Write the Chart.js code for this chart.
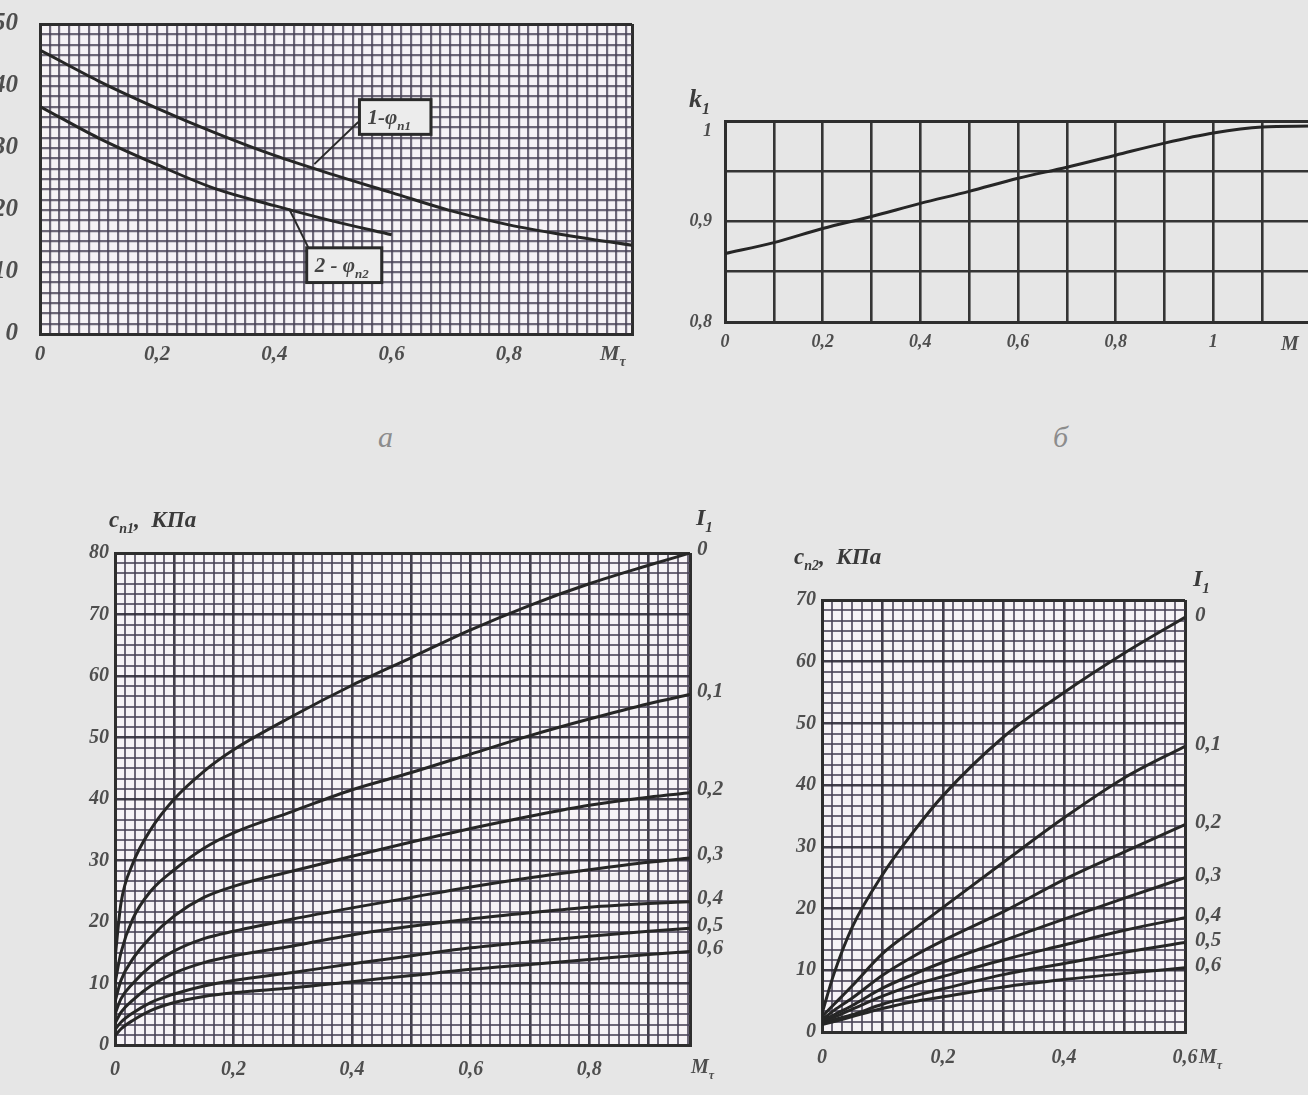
<!DOCTYPE html>
<html>
<head>
<meta charset="utf-8">
<script src="https://cdn.jsdelivr.net/npm/chart.js@4.4.1/dist/chart.umd.min.js"></script>
<style>
  html, body { margin: 0; padding: 0; background: #e6e6e6; width: 1308px; height: 1095px; overflow: hidden; position: relative; }
  canvas { position: absolute; }
  .cap { position: absolute; font: italic 30px "Liberation Serif", serif; color: #8c8c8c; }
</style>
</head>
<body>
<canvas id="chA" width="680" height="393" style="left:-20px;top:-13px"></canvas>
<canvas id="chB" width="650" height="290" style="left:680px;top:80px"></canvas>
<canvas id="chC" width="720" height="600" style="left:40px;top:490px"></canvas>
<canvas id="chD" width="548" height="540" style="left:760px;top:540px"></canvas>
<div class="cap" style="left:378px;top:420px">а</div>
<div class="cap" style="left:1053px;top:420px">б</div>
<script>
// ---- а: phi curves ----
const mA = [0, 0.1, 0.2, 0.3, 0.4, 0.5, 0.6, 0.7, 0.8, 0.9, 1.01];
const phi1 = [45.8, 40.8, 36.4, 32.4, 28.8, 25.7, 22.8, 19.9, 17.6, 15.9, 14.3];
const mA2 = [0, 0.1, 0.2, 0.3, 0.4, 0.5, 0.6];
const phi2 = [36.7, 31.6, 27.3, 23.4, 20.7, 18.2, 16.0];

// ---- б: k1 ----
const mB = [0, 0.1, 0.2, 0.3, 0.4, 0.5, 0.6, 0.7, 0.8, 0.9, 1.0, 1.1, 1.2];
const k1 = [0.868, 0.879, 0.893, 0.905, 0.918, 0.930, 0.943, 0.954, 0.966, 0.978, 0.988, 0.994, 0.995];

// ---- c_n1 (I1 = 0 ... 0,6) ----
const iLabels = ['0', '0,1', '0,2', '0,3', '0,4', '0,5', '0,6'];
const mC = [0, 0.01, 0.03, 0.06, 0.1, 0.15, 0.2, 0.3, 0.4, 0.5, 0.6, 0.7, 0.8, 0.9, 0.97];
const cI0 = [14, 23, 29.5, 35, 40, 44.5, 48, 53.5, 58.5, 63, 67.5, 71.5, 75, 78, 80];
const cI1 = [10, 15, 20.5, 25, 28.5, 32, 34.5, 38, 41.5, 44.3, 47.3, 50.3, 53, 55.5, 57];
const cI2 = [7, 10.5, 14, 17.5, 21, 24, 25.8, 28.3, 30.7, 33, 35.2, 37.2, 39, 40.3, 41];
const cI3 = [5, 7.5, 10, 12.8, 15.3, 17.3, 18.5, 20.5, 22.3, 24, 25.7, 27.2, 28.5, 29.7, 30.4];
const cI4 = [3.5, 5.3, 7.3, 9.6, 11.7, 13.4, 14.5, 16.1, 17.9, 19.3, 20.5, 21.5, 22.4, 23, 23.3];
const cI5 = [2.5, 3.7, 5.2, 6.9, 8.3, 9.6, 10.5, 11.8, 13.2, 14.5, 15.8, 16.8, 17.7, 18.5, 19];
const cI6 = [1.5, 2.6, 4, 5.6, 6.9, 7.9, 8.5, 9.3, 10.3, 11.3, 12.3, 13.1, 13.9, 14.7, 15.2];

// ---- c_n2 ----
const mD = [0, 0.02, 0.05, 0.1, 0.15, 0.2, 0.3, 0.4, 0.5, 0.6];
const dI0 = [3, 9.5, 17, 25.5, 32.3, 38.3, 47.8, 55, 61.4, 67.2];
const dI1 = [2.5, 4.5, 7.5, 12.7, 16.5, 20.2, 27.5, 34.7, 41.2, 46.3];
const dI2 = [2, 3.5, 5.5, 9.2, 12.2, 14.8, 19.5, 24.7, 29.2, 33.6];
const dI3 = [1.8, 2.8, 4.3, 7.1, 9.3, 11.3, 14.8, 18.3, 21.7, 25];
const dI4 = [1.6, 2.4, 3.7, 5.8, 7.6, 9.0, 11.7, 14.1, 16.5, 18.5];
const dI5 = [1.4, 2, 2.8, 4.5, 5.8, 7.0, 9.3, 11.1, 12.9, 14.5];
const dI6 = [1.2, 1.7, 2.5, 3.8, 4.9, 5.7, 7.3, 8.5, 9.5, 10.4];

const FONT = '"Liberation Serif", "DejaVu Serif", serif';
const INK = '#262626';
const LABEL = '#4e4e4e';

function isMul(v, m) { const r = v / m; return Math.abs(r - Math.round(r)) < 1e-6; }
function comma(v) { return Math.abs(v) < 1e-9 ? '0' : String(+v.toFixed(2)).replace('.', ','); }
function pts(xs, ys) { return xs.map((x, i) => ({ x: x, y: ys[i] })); }

// fine millimetre-paper grid: one tick every `step`, plus the edge
function fineTicks(step) {
  return function (scale) {
    const t = [];
    const n = Math.round((scale.max - scale.min) / step);
    for (let i = 0; i <= n; i++) {
      const v = scale.min + i * step;
      if (v <= scale.max + 1e-9) t.push({ value: v });
    }
    if (Math.abs(t[t.length - 1].value - scale.max) > 1e-6) t.push({ value: scale.max });
    scale.ticks = t;
  };
}

function gridStyle(major, minorCol, majorCol, minorW, majorW) {
  const edge = ctx => Math.abs(ctx.tick.value - ctx.scale.min) < 1e-9 || Math.abs(ctx.tick.value - ctx.scale.max) < 1e-9;
  return {
    drawTicks: false,
    color: ctx => edge(ctx) ? '#2e2e2e' : (major(ctx.tick.value) ? majorCol : minorCol),
    lineWidth: ctx => edge(ctx) ? 3 : (major(ctx.tick.value) ? majorW : minorW)
  };
}

const paperBg = {
  id: 'paperBg',
  beforeDraw(chart, args, opts) {
    if (!opts.color) return;
    const a = chart.chartArea, c = chart.ctx;
    c.save(); c.fillStyle = opts.color; c.fillRect(a.left, a.top, a.width, a.height); c.restore();
  }
};

// text with a subscript part
function subText(c, x, y, main, sub, size, after) {
  c.font = 'bold italic ' + size + 'px ' + FONT;
  c.fillText(main, x, y);
  let w = c.measureText(main).width;
  if (sub) {
    const s = Math.round(size * 0.62);
    c.font = 'bold italic ' + s + 'px ' + FONT;
    c.fillText(sub, x + w, y + size * 0.28);
    w += c.measureText(sub).width;
  }
  if (after) {
    c.font = 'bold italic ' + size + 'px ' + FONT;
    c.fillText(after, x + w, y);
  }
}

function lineSet(label, data) {
  return { label: label, data: data, borderColor: INK, borderWidth: 3, pointRadius: 0, fill: false, cubicInterpolationMode: 'monotone' };
}

function makeOptions(o) {
  return {
    responsive: false,
    animation: false,
    layout: { padding: o.padding },
    plugins: { legend: { display: false }, tooltip: { enabled: false }, paperBg: { color: o.paper }, endLabels: o.ends || {} },
    scales: {
      x: {
        type: 'linear', min: o.xMin, max: o.xMax,
        afterBuildTicks: fineTicks(o.xStep),
        afterFit: s => { s.height = o.xHeight; },
        grid: gridStyle(o.xMajor, o.minorCol, o.majorCol, o.minorW, o.majorW),
        border: { display: true, color: '#2e2e2e', width: 3 },
        ticks: { autoSkip: false, maxRotation: 0, minRotation: 0, padding: o.xPad, color: LABEL,
                 font: { family: FONT, size: o.fontSize, style: 'italic', weight: 'bold' }, callback: o.xLabel }
      },
      y: {
        type: 'linear', min: o.yMin, max: o.yMax,
        afterBuildTicks: fineTicks(o.yStep),
        afterFit: s => { s.width = o.yWidth; },
        grid: gridStyle(o.yMajor, o.minorCol, o.majorCol, o.minorW, o.majorW),
        border: { display: true, color: '#2e2e2e', width: 3 },
        ticks: { autoSkip: false, padding: o.yPad, color: LABEL,
                 font: { family: FONT, size: o.yFontSize || o.fontSize, style: 'italic', weight: 'bold' }, callback: o.yLabel }
      }
    }
  };
}

const PAPER = '#f6f3f6';
const MINOR = 'rgba(70,64,84,0.78)';
const MAJOR = 'rgba(45,42,55,0.9)';

// right-side I1 labels at the ends of the curves
const endLabels = {
  id: 'endLabels',
  afterDraw(chart, args, opts) {
    const c = chart.ctx, a = chart.chartArea;
    c.save();
    c.fillStyle = LABEL; c.textBaseline = 'middle'; c.textAlign = 'left';
    c.font = 'bold italic ' + opts.size + 'px ' + FONT;
    chart.data.datasets.forEach((ds, i) => {
      const meta = chart.getDatasetMeta(i);
      const p = meta.data[meta.data.length - 1];
      c.fillText(ds.label, a.right + opts.dx, p.y + opts.dy);
    });
    c.restore();
  }
};

// ---------- chart а ----------
new Chart(document.getElementById('chA'), {
  type: 'line',
  data: { datasets: [lineSet('1-φп1', pts(mA, phi1)), lineSet('2-φп2', pts(mA2, phi2))] },
  options: makeOptions({
    padding: { top: 35, left: 0, right: 28, bottom: 0 },
    paper: PAPER, minorCol: MINOR, majorCol: MINOR, minorW: 2.2, majorW: 2.2,
    xMin: 0, xMax: 1.01, xStep: 0.2 / 12, xMajor: v => isMul(v, 0.2),
    yMin: 0, yMax: 50, yStep: 10 / 6, yMajor: v => isMul(v, 10),
    xHeight: 46, yWidth: 60, xPad: 8, yPad: 22, fontSize: 21, yFontSize: 25,
    xLabel: v => (isMul(v, 0.2) && v < 0.9) ? comma(v) : '',
    yLabel: v => isMul(v, 10) ? String(Math.round(v)) : ''
  }),
  plugins: [paperBg, {
    id: 'tagsA',
    afterDraw(chart) {
      const c = chart.ctx, x = chart.scales.x, y = chart.scales.y, a = chart.chartArea;
      c.save();
      c.fillStyle = LABEL; c.textBaseline = 'alphabetic';
      subText(c, a.right - 32, a.bottom + 26, 'M', 'τ', 22);
      const tag = (m0, v0, m1, v1, lm, lv, lx, ly, main, sub) => {
        const x0 = x.getPixelForValue(m0), y0 = y.getPixelForValue(v0);
        const x1 = x.getPixelForValue(m1), y1 = y.getPixelForValue(v1);
        c.strokeStyle = '#2a2a2a'; c.lineWidth = 2;
        c.beginPath(); c.moveTo(x.getPixelForValue(lx), y.getPixelForValue(ly));
        c.lineTo(x.getPixelForValue(lm), y.getPixelForValue(lv)); c.stroke();
        c.fillStyle = '#ececec'; c.fillRect(x0, y0, x1 - x0, y1 - y0);
        c.lineWidth = 3; c.strokeRect(x0, y0, x1 - x0, y1 - y0);
        c.fillStyle = '#444';
        subText(c, x0 + 8, (y0 + y1) / 2 + 7, main, sub, 21);
      };
      tag(0.545, 37.8, 0.667, 32.2, 0.468, 27.4, 0.543, 34.2, '1-φ', 'п1');
      tag(0.455, 13.9, 0.583, 8.3, 0.425, 20.2, 0.458, 13.9, '2 - φ', 'п2');
      c.restore();
    }
  }]
});

// ---------- chart б ----------
new Chart(document.getElementById('chB'), {
  type: 'line',
  data: { datasets: [lineSet('k1', pts(mB, k1))] },
  options: makeOptions({
    padding: { top: 41, left: 0, right: 19, bottom: 0 },
    paper: null, minorCol: '#353535', majorCol: '#353535', minorW: 2.6, majorW: 2.6,
    xMin: 0, xMax: 1.2, xStep: 0.1, xMajor: v => true,
    yMin: 0.8, yMax: 1.0, yStep: 0.05, yMajor: v => true,
    xHeight: 48, yWidth: 45, xPad: 10, yPad: 13, fontSize: 18,
    xLabel: v => (isMul(v, 0.2) && v < 1.05) ? comma(v) : (Math.abs(v - 1) < 1e-6 ? '1' : ''),
    yLabel: v => (isMul(v, 0.1) && v < 0.99) ? comma(v) : ''
  }),
  plugins: [{
    id: 'textB',
    afterDraw(chart) {
      const c = chart.ctx, a = chart.chartArea, y = chart.scales.y;
      c.save(); c.fillStyle = '#3c3c3c'; c.textBaseline = 'alphabetic';
      subText(c, a.left - 36, a.top - 14, 'k', '1', 26);
      c.fillStyle = LABEL;
      c.textAlign = 'right'; c.textBaseline = 'middle';
      c.font = 'bold italic 18px ' + FONT;
      c.fillText('1', a.left - 13, y.getPixelForValue(1) + 10);
      c.textAlign = 'left'; c.textBaseline = 'alphabetic';
      subText(c, a.right - 30, a.bottom + 28, 'M', '', 20);
      c.restore();
    }
  }]
});

// ---------- chart c_n1 ----------
new Chart(document.getElementById('chC'), {
  type: 'line',
  data: { datasets: [cI0, cI1, cI2, cI3, cI4, cI5, cI6].map((s, i) => lineSet(iLabels[i], pts(mC, s))) },
  options: makeOptions({
    padding: { top: 63, left: 0, right: 70, bottom: 0 },
    paper: PAPER, minorCol: MINOR, majorCol: MAJOR, minorW: 2, majorW: 2.6,
    xMin: 0, xMax: 0.97, xStep: 0.2 / 12, xMajor: v => isMul(v, 0.1),
    yMin: 0, yMax: 80, yStep: 10 / 6, yMajor: v => isMul(v, 10),
    xHeight: 45, yWidth: 75, xPad: 13, yPad: 6, fontSize: 20,
    ends: { size: 21, dx: 7, dy: -3 },
    xLabel: v => (isMul(v, 0.2) && v < 0.9) ? comma(v) : '',
    yLabel: v => isMul(v, 10) ? String(Math.round(v)) : ''
  }),
  plugins: [paperBg, endLabels, {
    id: 'textC',
    afterDraw(chart) {
      const c = chart.ctx, a = chart.chartArea;
      c.save(); c.fillStyle = '#3a3a3a'; c.textBaseline = 'alphabetic';
      subText(c, a.left - 6, a.top - 26, 'c', 'п1', 23, ',  КПа');
      subText(c, a.right + 6, a.top - 28, 'I', '1', 24);
      c.fillStyle = LABEL;
      subText(c, a.right + 1, a.bottom + 28, 'M', 'τ', 20);
      c.restore();
    }
  }]
});

// ---------- chart c_n2 ----------
new Chart(document.getElementById('chD'), {
  type: 'line',
  data: { datasets: [dI0, dI1, dI2, dI3, dI4, dI5, dI6].map((s, i) => lineSet(iLabels[i], pts(mD, s))) },
  options: makeOptions({
    padding: { top: 60, left: 0, right: 123, bottom: 0 },
    paper: PAPER, minorCol: MINOR, majorCol: MAJOR, minorW: 2, majorW: 2.6,
    xMin: 0, xMax: 0.6, xStep: 0.2 / 12, xMajor: v => isMul(v, 0.1),
    yMin: 0, yMax: 70, yStep: 10 / 6, yMajor: v => isMul(v, 10),
    xHeight: 48, yWidth: 62, xPad: 14, yPad: 6, fontSize: 20,
    ends: { size: 21, dx: 10, dy: -2 },
    xLabel: v => isMul(v, 0.2) ? comma(v) : '',
    yLabel: v => isMul(v, 10) ? String(Math.round(v)) : ''
  }),
  plugins: [paperBg, endLabels, {
    id: 'textD',
    afterDraw(chart) {
      const c = chart.ctx, a = chart.chartArea;
      c.save(); c.fillStyle = '#3a3a3a'; c.textBaseline = 'alphabetic';
      subText(c, a.left - 28, a.top - 36, 'c', 'п2', 23, ',  КПа');
      subText(c, a.right + 8, a.top - 14, 'I', '1', 24);
      c.fillStyle = LABEL;
      subText(c, a.right + 14, a.bottom + 31, 'M', 'τ', 20);
      c.restore();
    }
  }]
});
</script>
</body>
</html>
